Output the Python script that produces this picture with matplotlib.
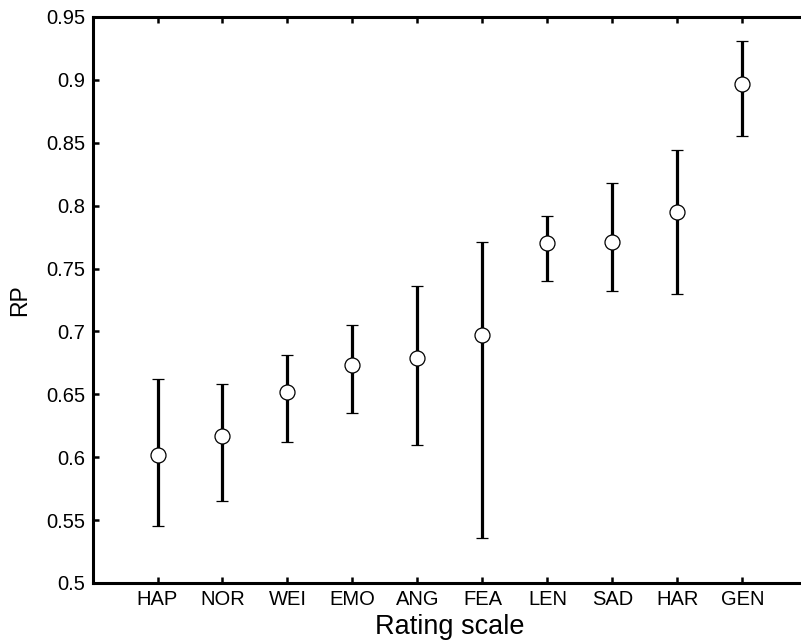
import matplotlib
matplotlib.use("Agg")
import matplotlib.pyplot as plt
import numpy as np

categories = ["HAP", "NOR", "WEI", "EMO", "ANG", "FEA", "LEN", "SAD", "HAR", "GEN"]
means = [0.602, 0.617, 0.652, 0.673, 0.679, 0.697, 0.770, 0.771, 0.795, 0.897]
upper = [0.662, 0.658, 0.681, 0.705, 0.736, 0.771, 0.792, 0.818, 0.844, 0.931]
lower = [0.545, 0.565, 0.612, 0.635, 0.610, 0.536, 0.740, 0.732, 0.730, 0.855]
yticks = [0.5, 0.55, 0.6, 0.65, 0.7, 0.75, 0.8, 0.85, 0.9, 0.95]
ytick_labels = ["0.5", "0.55", "0.6", "0.65", "0.7", "0.75", "0.8", "0.85", "0.9", "0.95"]

plt.rcParams['font.family'] = ['Liberation Sans', 'DejaVu Sans']

fig = plt.figure(figsize=(8.01, 6.44), dpi=100)
ax = fig.add_axes([92.5/801, 61/644, 715/801, 566/644])

x = np.arange(1, len(categories) + 1)
m = np.array(means)
yerr = np.vstack([m - np.array(lower), np.array(upper) - m])
ax.errorbar(x, m, yerr=yerr, fmt='o', color='black', ecolor='black',
            elinewidth=2.3, capsize=4.4, capthick=3.0,
            markersize=10.8, markerfacecolor='white', markeredgecolor='black',
            markeredgewidth=0.9)

ax.set_xlim(0, 11)
ax.set_ylim(0.5, 0.95)
ax.set_xticks(x)
ax.set_xticklabels(categories)
ax.set_yticks(yticks)
ax.set_yticklabels(ytick_labels)
ax.tick_params(direction='in', length=4, width=1.8, top=True, right=True,
               labelsize=14.5, pad=5)
for s in ax.spines.values():
    s.set_linewidth(2.2)
ax.spines['right'].set_visible(False)
ax.set_xlabel("Rating scale", fontsize=19.5, labelpad=4)
ax.set_ylabel("RP", fontsize=16.5, labelpad=11)

fig.savefig("out.png", dpi=100)
